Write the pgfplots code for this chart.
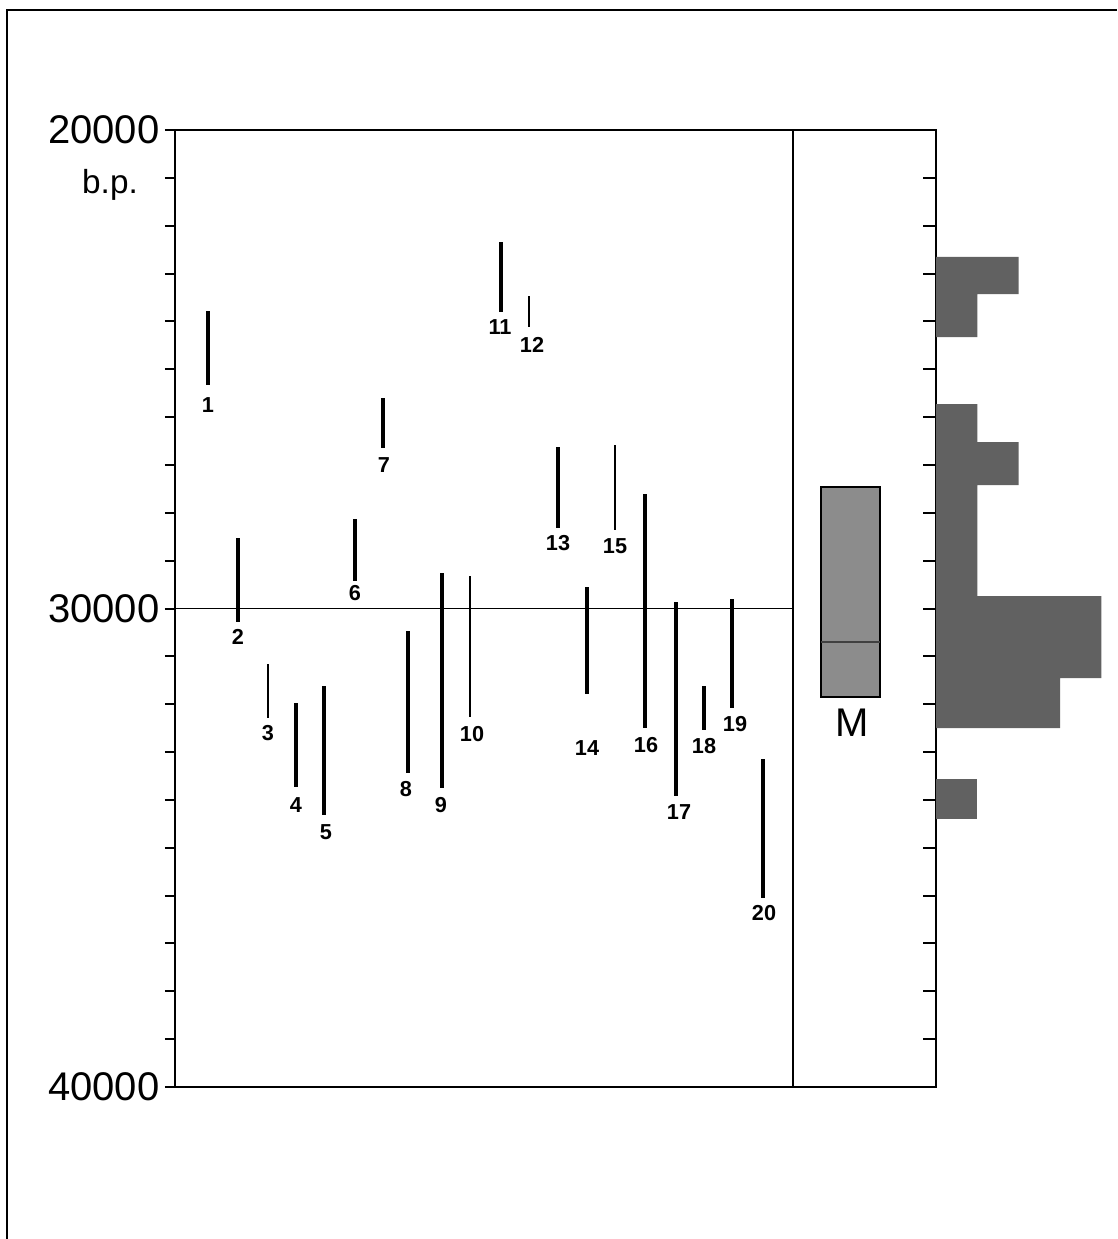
\documentclass[border=0pt]{standalone}
\usepackage{pgfplots}
\pgfplotsset{compat=1.18}
\usepackage{fontspec}
\setmainfont{Liberation Sans}
\begin{document}
\begin{tikzpicture}
\useasboundingbox (-52.5pt,-45.6pt) rectangle (282.6pt,326.1pt);
\draw[line width=0.8pt] (-50.4pt,-45.6pt) -- (-50.4pt,323.1pt) -- (282.6pt,323.1pt);
% main panel
\begin{axis}[at={(0pt,0pt)}, anchor=south west, scale only axis,
  width=185.4pt, height=287.1pt,
  xmin=175, xmax=793, ymin=20000, ymax=40000, y dir=reverse,
  scaled y ticks=false,
  xtick=\empty, ytick={20000,30000,40000}, yticklabels={20000,30000,40000},
  minor ytick={21000,22000,...,39000},
  tick align=outside, ytick pos=left,
  major tick length=3pt, minor tick length=3pt,
  axis line style={line width=0.6pt},
  every tick/.style={line width=0.6pt, black},
  minor tick style={line width=0.6pt, black},
  yticklabel style={font=\fontsize{12}{12}\selectfont, inner sep=1.5pt},
  clip=false]
\addplot[black, line width=0.45pt] coordinates {(175,30000) (793,30000)};
\addplot[black, line width=1.2pt, unbounded coords=jump] table {
x y
208 23783
208 25329
nan nan
238 28527
238 30283
nan nan
296 31977
296 33732
nan nan
324 31620
324 34316
nan nan
355 28130
355 29426
nan nan
383 25601
383 26646
nan nan
408 30471
408 33439
nan nan
442 29259
442 33752
nan nan
501 22341
501 23804
nan nan
558 26625
558 28318
nan nan
587 29551
587 31787
nan nan
645 27608
645 32498
nan nan
676 29865
676 33920
nan nan
704 31620
704 32540
nan nan
732 29802
732 32080
nan nan
763 33146
763 36051
};
\addplot[black, line width=0.85pt, unbounded coords=jump] table {
x y
268 31161
268 32290
nan nan
470 29321
470 32268
nan nan
529 23469
529 24117
nan nan
615 26584
615 28360
};
\addplot[draw=none, mark=none, nodes near coords, point meta=explicit symbolic,
  nodes near coords align=center,
  every node near coord/.append style={font=\fontsize{6.5}{6.5}\selectfont\bfseries, anchor=center, inner sep=0pt}]
  table[meta=lab] {
x y lab
208 25748 1
238 30596 2
268 32603 3
296 34108 4
326 34672 5
355 29677 6
384 27002 7
406 33773 8
441 34108 9
472 32624 10
500 24117 11
532 24494 12
558 28632 13
587 32917 14
615 28694 15
646 32854 16
679 34254 17
704 32875 18
735 32415 19
764 36365 20
};
\end{axis}
% M panel
\begin{axis}[at={(185.4pt,0pt)}, anchor=south west, scale only axis,
  width=42.9pt, height=287.1pt,
  xmin=793, xmax=936, ymin=20000, ymax=40000, y dir=reverse,
  scaled y ticks=false,
  xtick=\empty, ytick={21000,22000,...,39000}, yticklabels={},
  ytick pos=right, tick align=inside, major tick length=4pt,
  axis line style={line width=0.6pt},
  every tick/.style={line width=0.6pt, black},
  clip=false]
\addplot[fill=black!45, draw=black, line width=0.5pt] coordinates {(821,27460) (880,27460) (880,31850) (821,31850)} -- cycle;
\addplot[black!75, line width=0.5pt] coordinates {(821,30700) (880,30700)};
\node[font=\fontsize{12}{12}\selectfont] at (axis cs:852,32380) {M};
\end{axis}
% histogram
\begin{axis}[at={(228.3pt,0pt)}, anchor=south west, scale only axis,
  width=52.2pt, height=287.1pt,
  xmin=0, xmax=4.21, ymin=20000, ymax=40000, y dir=reverse,
  hide axis, clip=false]
\addplot[fill=black!62, draw=none] coordinates {(0,22654) (2,22654) (2,23428) (1,23428) (1,24326) (0,24326)} -- cycle;
\addplot[fill=black!62, draw=none] coordinates {(0,25727) (1,25727) (1,26521) (2,26521) (2,27420) (1,27420) (1,29739) (4,29739) (4,31453) (3,31453) (3,32498) (0,32498)} -- cycle;
\addplot[fill=black!62, draw=none] coordinates {(0,33564) (1,33564) (1,34400) (0,34400)} -- cycle;
\end{axis}
\node[font=\fontsize{10}{10}\selectfont] at (-19.5pt,270.6pt) {b.p.};
\end{tikzpicture}
\end{document}
